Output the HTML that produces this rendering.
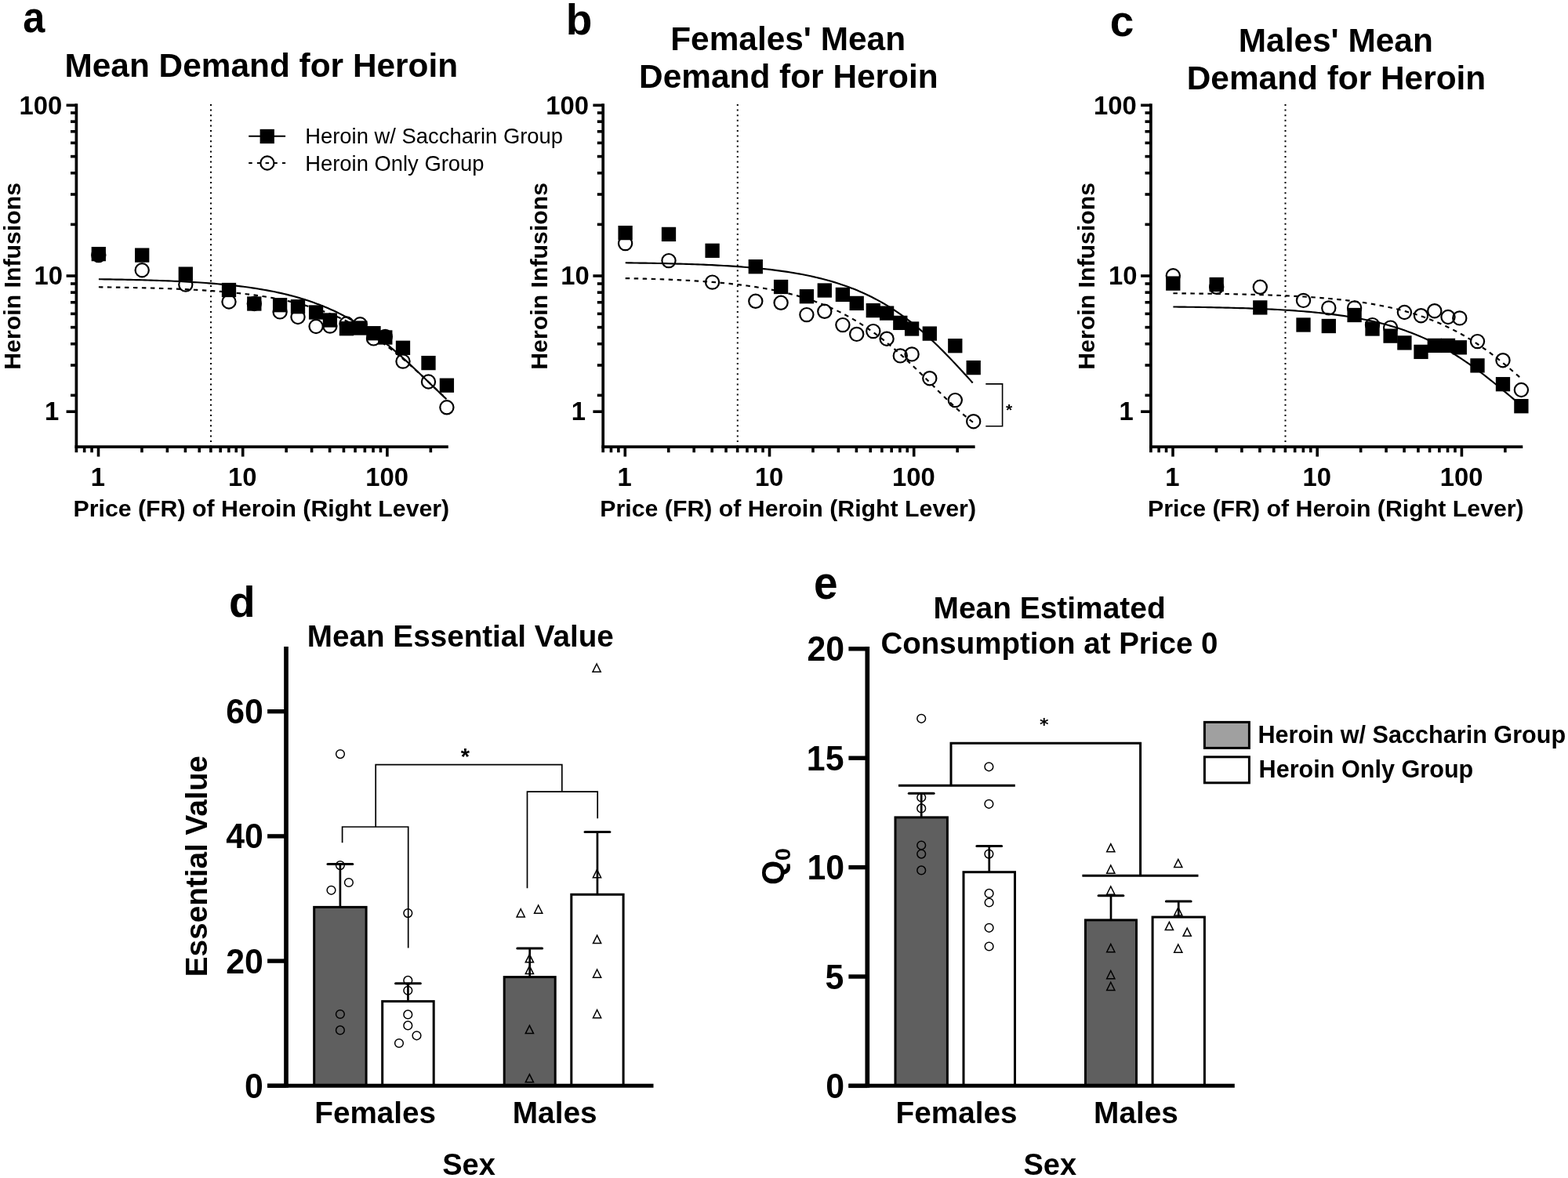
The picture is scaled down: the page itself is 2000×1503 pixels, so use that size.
<!DOCTYPE html>
<html><head><meta charset="utf-8"><title>Figure</title><style>html,body{margin:0;padding:0;background:#fff;}svg{display:block;}</style></head><body>
<svg width="2000" height="1503" viewBox="0 0 2000 1503">
<rect width="2000" height="1503" fill="#fff"/>
<line x1="269.00" y1="133" x2="269.00" y2="569" stroke="#000" stroke-width="2" stroke-dasharray="2 4.6"/>
<path d="M125.90,356.21 L129.60,356.26 L133.29,356.32 L136.99,356.37 L140.69,356.43 L144.38,356.49 L148.08,356.56 L151.78,356.62 L155.47,356.69 L159.17,356.77 L162.87,356.84 L166.56,356.92 L170.26,357.01 L173.96,357.10 L177.65,357.19 L181.35,357.29 L185.05,357.39 L188.74,357.50 L192.44,357.61 L196.14,357.72 L199.83,357.85 L203.53,357.97 L207.23,358.11 L210.92,358.25 L214.62,358.39 L218.32,358.55 L222.01,358.71 L225.71,358.87 L229.41,359.05 L233.10,359.23 L236.80,359.43 L240.50,359.63 L244.19,359.84 L247.89,360.06 L251.59,360.29 L255.28,360.53 L258.98,360.78 L262.68,361.04 L266.37,361.32 L270.07,361.61 L273.77,361.91 L277.46,362.23 L281.16,362.56 L284.86,362.90 L288.55,363.26 L292.25,363.64 L295.95,364.03 L299.64,364.44 L303.34,364.87 L307.04,365.32 L310.73,365.79 L314.43,366.28 L318.13,366.80 L321.82,367.33 L325.52,367.89 L329.22,368.47 L332.91,369.08 L336.61,369.72 L340.31,370.38 L344.00,371.08 L347.70,371.80 L351.40,372.56 L355.09,373.34 L358.79,374.17 L362.49,375.02 L366.18,375.91 L369.88,376.85 L373.58,377.82 L377.27,378.83 L380.97,379.88 L384.67,380.97 L388.36,382.11 L392.06,383.30 L395.76,384.53 L399.45,385.82 L403.15,387.15 L406.85,388.54 L410.54,389.98 L414.24,391.48 L417.94,393.03 L421.63,394.65 L425.33,396.32 L429.03,398.05 L432.72,399.85 L436.42,401.71 L440.12,403.64 L443.81,405.63 L447.51,407.70 L451.21,409.83 L454.90,412.03 L458.60,414.30 L462.30,416.64 L465.99,419.06 L469.69,421.54 L473.39,424.10 L477.08,426.73 L480.78,429.44 L484.48,432.21 L488.17,435.06 L491.87,437.97 L495.57,440.95 L499.26,444.00 L502.96,447.11 L506.66,450.29 L510.35,453.52 L514.05,456.81 L517.75,460.15 L521.44,463.54 L525.14,466.97 L528.84,470.44 L532.53,473.94 L536.23,477.47 L539.93,481.02 L543.62,484.59 L547.32,488.16 L551.02,491.73 L554.71,495.29 L558.41,498.84 L562.11,502.36 L565.80,505.85 L569.50,509.29" fill="none" stroke="#000" stroke-width="2.15"/>
<path d="M125.90,366.30 L129.60,366.35 L133.29,366.40 L136.99,366.44 L140.69,366.50 L144.38,366.55 L148.08,366.61 L151.78,366.67 L155.47,366.73 L159.17,366.79 L162.87,366.86 L166.56,366.93 L170.26,367.01 L173.96,367.09 L177.65,367.17 L181.35,367.26 L185.05,367.35 L188.74,367.44 L192.44,367.54 L196.14,367.64 L199.83,367.75 L203.53,367.86 L207.23,367.98 L210.92,368.10 L214.62,368.23 L218.32,368.37 L222.01,368.51 L225.71,368.66 L229.41,368.82 L233.10,368.98 L236.80,369.15 L240.50,369.33 L244.19,369.51 L247.89,369.71 L251.59,369.91 L255.28,370.13 L258.98,370.35 L262.68,370.58 L266.37,370.83 L270.07,371.08 L273.77,371.35 L277.46,371.63 L281.16,371.92 L284.86,372.23 L288.55,372.55 L292.25,372.88 L295.95,373.23 L299.64,373.60 L303.34,373.98 L307.04,374.38 L310.73,374.80 L314.43,375.23 L318.13,375.69 L321.82,376.16 L325.52,376.66 L329.22,377.18 L332.91,377.72 L336.61,378.29 L340.31,378.88 L344.00,379.50 L347.70,380.14 L351.40,380.82 L355.09,381.52 L358.79,382.25 L362.49,383.02 L366.18,383.81 L369.88,384.64 L373.58,385.51 L377.27,386.41 L380.97,387.36 L384.67,388.34 L388.36,389.36 L392.06,390.42 L395.76,391.53 L399.45,392.68 L403.15,393.88 L406.85,395.13 L410.54,396.43 L414.24,397.77 L417.94,399.17 L421.63,400.63 L425.33,402.14 L429.03,403.71 L432.72,405.33 L436.42,407.02 L440.12,408.77 L443.81,410.58 L447.51,412.45 L451.21,414.39 L454.90,416.40 L458.60,418.47 L462.30,420.62 L465.99,422.83 L469.69,425.11 L473.39,427.46 L477.08,429.88 L480.78,432.38 L484.48,434.94 L488.17,437.58 L491.87,440.29 L495.57,443.06 L499.26,445.91 L502.96,448.82 L506.66,451.79 L510.35,454.83 L514.05,457.94 L517.75,461.10 L521.44,464.31 L525.14,467.58 L528.84,470.90 L532.53,474.26 L536.23,477.66 L539.93,481.09 L543.62,484.55 L547.32,488.03 L551.02,491.53 L554.71,495.04 L558.41,498.55 L562.11,502.06 L565.80,505.55 L569.50,509.02" fill="none" stroke="#000" stroke-width="2.15" stroke-dasharray="5.5 5.5"/>
<circle cx="125.80" cy="325.60" r="8.6" fill="none" stroke="#000" stroke-width="2.2"/>
<circle cx="181.20" cy="344.75" r="8.6" fill="none" stroke="#000" stroke-width="2.2"/>
<circle cx="236.80" cy="363.10" r="8.6" fill="none" stroke="#000" stroke-width="2.2"/>
<circle cx="292.00" cy="385.00" r="8.6" fill="none" stroke="#000" stroke-width="2.2"/>
<circle cx="324.30" cy="387.50" r="8.6" fill="none" stroke="#000" stroke-width="2.2"/>
<circle cx="357.10" cy="397.90" r="8.6" fill="none" stroke="#000" stroke-width="2.2"/>
<circle cx="380.00" cy="404.50" r="8.6" fill="none" stroke="#000" stroke-width="2.2"/>
<circle cx="403.10" cy="416.50" r="8.6" fill="none" stroke="#000" stroke-width="2.2"/>
<circle cx="420.90" cy="416.10" r="8.6" fill="none" stroke="#000" stroke-width="2.2"/>
<circle cx="442.00" cy="413.00" r="8.6" fill="none" stroke="#000" stroke-width="2.2"/>
<circle cx="459.30" cy="413.80" r="8.6" fill="none" stroke="#000" stroke-width="2.2"/>
<circle cx="476.50" cy="431.90" r="8.6" fill="none" stroke="#000" stroke-width="2.2"/>
<circle cx="491.30" cy="429.50" r="8.6" fill="none" stroke="#000" stroke-width="2.2"/>
<circle cx="514.00" cy="461.10" r="8.6" fill="none" stroke="#000" stroke-width="2.2"/>
<circle cx="546.50" cy="487.00" r="8.6" fill="none" stroke="#000" stroke-width="2.2"/>
<circle cx="569.90" cy="519.80" r="8.6" fill="none" stroke="#000" stroke-width="2.2"/>
<rect x="116.65" y="314.95" width="18.3" height="18.3" fill="#000"/>
<rect x="172.05" y="316.45" width="18.3" height="18.3" fill="#000"/>
<rect x="227.65" y="340.45" width="18.3" height="18.3" fill="#000"/>
<rect x="282.85" y="360.85" width="18.3" height="18.3" fill="#000"/>
<rect x="315.15" y="378.35" width="18.3" height="18.3" fill="#000"/>
<rect x="347.95" y="380.05" width="18.3" height="18.3" fill="#000"/>
<rect x="370.85" y="382.05" width="18.3" height="18.3" fill="#000"/>
<rect x="393.95" y="389.35" width="18.3" height="18.3" fill="#000"/>
<rect x="411.75" y="399.35" width="18.3" height="18.3" fill="#000"/>
<rect x="432.85" y="410.05" width="18.3" height="18.3" fill="#000"/>
<rect x="450.15" y="409.35" width="18.3" height="18.3" fill="#000"/>
<rect x="467.35" y="416.05" width="18.3" height="18.3" fill="#000"/>
<rect x="482.15" y="421.35" width="18.3" height="18.3" fill="#000"/>
<rect x="504.85" y="434.65" width="18.3" height="18.3" fill="#000"/>
<rect x="537.35" y="453.95" width="18.3" height="18.3" fill="#000"/>
<rect x="560.75" y="482.55" width="18.3" height="18.3" fill="#000"/>
<line x1="97.40" y1="132.20" x2="97.40" y2="577.30" stroke="#000" stroke-width="3.7"/>
<line x1="95.55" y1="570.20" x2="571.80" y2="570.20" stroke="#000" stroke-width="3.8"/>
<line x1="84.60" y1="134.30" x2="97.40" y2="134.30" stroke="#000" stroke-width="3.6"/>
<line x1="84.60" y1="352.00" x2="97.40" y2="352.00" stroke="#000" stroke-width="3.6"/>
<line x1="84.60" y1="525.20" x2="97.40" y2="525.20" stroke="#000" stroke-width="3.6"/>
<line x1="90.00" y1="286.38" x2="97.40" y2="286.38" stroke="#000" stroke-width="3.6"/>
<line x1="90.00" y1="247.99" x2="97.40" y2="247.99" stroke="#000" stroke-width="3.6"/>
<line x1="90.00" y1="220.75" x2="97.40" y2="220.75" stroke="#000" stroke-width="3.6"/>
<line x1="90.00" y1="199.62" x2="97.40" y2="199.62" stroke="#000" stroke-width="3.6"/>
<line x1="90.00" y1="182.36" x2="97.40" y2="182.36" stroke="#000" stroke-width="3.6"/>
<line x1="90.00" y1="167.77" x2="97.40" y2="167.77" stroke="#000" stroke-width="3.6"/>
<line x1="90.00" y1="155.13" x2="97.40" y2="155.13" stroke="#000" stroke-width="3.6"/>
<line x1="90.00" y1="143.98" x2="97.40" y2="143.98" stroke="#000" stroke-width="3.6"/>
<line x1="90.00" y1="504.38" x2="97.40" y2="504.38" stroke="#000" stroke-width="3.6"/>
<line x1="90.00" y1="465.99" x2="97.40" y2="465.99" stroke="#000" stroke-width="3.6"/>
<line x1="90.00" y1="438.75" x2="97.40" y2="438.75" stroke="#000" stroke-width="3.6"/>
<line x1="90.00" y1="417.62" x2="97.40" y2="417.62" stroke="#000" stroke-width="3.6"/>
<line x1="90.00" y1="400.36" x2="97.40" y2="400.36" stroke="#000" stroke-width="3.6"/>
<line x1="90.00" y1="385.77" x2="97.40" y2="385.77" stroke="#000" stroke-width="3.6"/>
<line x1="90.00" y1="373.13" x2="97.40" y2="373.13" stroke="#000" stroke-width="3.6"/>
<line x1="90.00" y1="361.98" x2="97.40" y2="361.98" stroke="#000" stroke-width="3.6"/>
<line x1="107.65" y1="570.00" x2="107.65" y2="577.30" stroke="#000" stroke-width="3.6"/>
<line x1="117.07" y1="570.00" x2="117.07" y2="577.30" stroke="#000" stroke-width="3.6"/>
<line x1="180.95" y1="570.00" x2="180.95" y2="577.30" stroke="#000" stroke-width="3.6"/>
<line x1="213.39" y1="570.00" x2="213.39" y2="577.30" stroke="#000" stroke-width="3.6"/>
<line x1="236.40" y1="570.00" x2="236.40" y2="577.30" stroke="#000" stroke-width="3.6"/>
<line x1="254.25" y1="570.00" x2="254.25" y2="577.30" stroke="#000" stroke-width="3.6"/>
<line x1="268.84" y1="570.00" x2="268.84" y2="577.30" stroke="#000" stroke-width="3.6"/>
<line x1="281.17" y1="570.00" x2="281.17" y2="577.30" stroke="#000" stroke-width="3.6"/>
<line x1="291.85" y1="570.00" x2="291.85" y2="577.30" stroke="#000" stroke-width="3.6"/>
<line x1="301.27" y1="570.00" x2="301.27" y2="577.30" stroke="#000" stroke-width="3.6"/>
<line x1="365.15" y1="570.00" x2="365.15" y2="577.30" stroke="#000" stroke-width="3.6"/>
<line x1="397.59" y1="570.00" x2="397.59" y2="577.30" stroke="#000" stroke-width="3.6"/>
<line x1="420.60" y1="570.00" x2="420.60" y2="577.30" stroke="#000" stroke-width="3.6"/>
<line x1="438.45" y1="570.00" x2="438.45" y2="577.30" stroke="#000" stroke-width="3.6"/>
<line x1="453.04" y1="570.00" x2="453.04" y2="577.30" stroke="#000" stroke-width="3.6"/>
<line x1="465.37" y1="570.00" x2="465.37" y2="577.30" stroke="#000" stroke-width="3.6"/>
<line x1="476.05" y1="570.00" x2="476.05" y2="577.30" stroke="#000" stroke-width="3.6"/>
<line x1="485.47" y1="570.00" x2="485.47" y2="577.30" stroke="#000" stroke-width="3.6"/>
<line x1="549.35" y1="570.00" x2="549.35" y2="577.30" stroke="#000" stroke-width="3.6"/>
<line x1="125.50" y1="570.00" x2="125.50" y2="582.60" stroke="#000" stroke-width="3.6"/>
<line x1="309.70" y1="570.00" x2="309.70" y2="582.60" stroke="#000" stroke-width="3.6"/>
<line x1="493.90" y1="570.00" x2="493.90" y2="582.60" stroke="#000" stroke-width="3.6"/>
<text x="24.50" y="145.70" font-family="'Liberation Sans', Arial, Helvetica, sans-serif" font-size="32.80" font-weight="bold" fill="#000">100</text>
<text x="43.40" y="363.40" font-family="'Liberation Sans', Arial, Helvetica, sans-serif" font-size="32.80" font-weight="bold" fill="#000">10</text>
<text x="57.02" y="536.00" font-family="'Liberation Sans', Arial, Helvetica, sans-serif" font-size="32.80" font-weight="bold" fill="#000">1</text>
<text x="115.74" y="619.50" font-family="'Liberation Sans', Arial, Helvetica, sans-serif" font-size="32.80" font-weight="bold" fill="#000">1</text>
<text x="291.09" y="619.50" font-family="'Liberation Sans', Arial, Helvetica, sans-serif" font-size="32.80" font-weight="bold" fill="#000">10</text>
<text x="466.18" y="619.50" font-family="'Liberation Sans', Arial, Helvetica, sans-serif" font-size="32.80" font-weight="bold" fill="#000">100</text>
<text x="93.47" y="658.70" font-family="'Liberation Sans', Arial, Helvetica, sans-serif" font-size="30.30" font-weight="bold" fill="#000">Price (FR) of Heroin (Right Lever)</text>
<text transform="translate(25.90,351.90) rotate(-90)" x="-119.91" y="0" font-family="'Liberation Sans', Arial, Helvetica, sans-serif" font-size="30.30" font-weight="bold">Heroin Infusions</text>
<line x1="940.80" y1="133" x2="940.80" y2="569" stroke="#000" stroke-width="2" stroke-dasharray="2 4.6"/>
<path d="M797.70,335.30 L801.39,335.35 L805.08,335.40 L808.78,335.45 L812.47,335.50 L816.16,335.56 L819.85,335.61 L823.54,335.67 L827.23,335.74 L830.93,335.80 L834.62,335.87 L838.31,335.95 L842.00,336.02 L845.69,336.10 L849.38,336.18 L853.08,336.27 L856.77,336.36 L860.46,336.46 L864.15,336.56 L867.84,336.66 L871.53,336.77 L875.23,336.89 L878.92,337.01 L882.61,337.13 L886.30,337.26 L889.99,337.40 L893.68,337.54 L897.38,337.69 L901.07,337.85 L904.76,338.02 L908.45,338.19 L912.14,338.37 L915.83,338.56 L919.53,338.76 L923.22,338.96 L926.91,339.18 L930.60,339.41 L934.29,339.64 L937.98,339.89 L941.68,340.15 L945.37,340.42 L949.06,340.70 L952.75,341.00 L956.44,341.31 L960.13,341.64 L963.83,341.97 L967.52,342.33 L971.21,342.70 L974.90,343.09 L978.59,343.49 L982.28,343.92 L985.98,344.36 L989.67,344.82 L993.36,345.31 L997.05,345.81 L1000.74,346.34 L1004.43,346.89 L1008.12,347.47 L1011.82,348.07 L1015.51,348.70 L1019.20,349.36 L1022.89,350.04 L1026.58,350.76 L1030.28,351.51 L1033.97,352.29 L1037.66,353.10 L1041.35,353.95 L1045.04,354.83 L1048.73,355.76 L1052.42,356.72 L1056.12,357.72 L1059.81,358.77 L1063.50,359.86 L1067.19,361.00 L1070.88,362.18 L1074.58,363.41 L1078.27,364.69 L1081.96,366.03 L1085.65,367.42 L1089.34,368.86 L1093.03,370.36 L1096.72,371.92 L1100.42,373.54 L1104.11,375.23 L1107.80,376.98 L1111.49,378.79 L1115.18,380.67 L1118.88,382.62 L1122.57,384.65 L1126.26,386.74 L1129.95,388.91 L1133.64,391.15 L1137.33,393.47 L1141.03,395.87 L1144.72,398.35 L1148.41,400.91 L1152.10,403.55 L1155.79,406.27 L1159.48,409.07 L1163.18,411.95 L1166.87,414.92 L1170.56,417.97 L1174.25,421.10 L1177.94,424.30 L1181.63,427.59 L1185.33,430.96 L1189.02,434.40 L1192.71,437.91 L1196.40,441.50 L1200.09,445.15 L1203.78,448.87 L1207.47,452.65 L1211.17,456.48 L1214.86,460.37 L1218.55,464.30 L1222.24,468.26 L1225.93,472.27 L1229.62,476.29 L1233.32,480.34 L1237.01,484.40 L1240.70,488.45" fill="none" stroke="#000" stroke-width="2.15"/>
<path d="M797.70,355.07 L801.40,355.15 L805.09,355.23 L808.79,355.31 L812.49,355.40 L816.18,355.49 L819.88,355.59 L823.58,355.69 L827.27,355.80 L830.97,355.91 L834.67,356.02 L838.36,356.14 L842.06,356.27 L845.76,356.40 L849.45,356.54 L853.15,356.69 L856.85,356.84 L860.54,357.00 L864.24,357.17 L867.94,357.34 L871.63,357.53 L875.33,357.72 L879.03,357.92 L882.72,358.13 L886.42,358.35 L890.12,358.58 L893.81,358.82 L897.51,359.07 L901.21,359.33 L904.90,359.61 L908.60,359.89 L912.30,360.19 L915.99,360.51 L919.69,360.84 L923.39,361.18 L927.08,361.54 L930.78,361.92 L934.48,362.31 L938.17,362.72 L941.87,363.15 L945.57,363.60 L949.26,364.07 L952.96,364.55 L956.66,365.07 L960.35,365.60 L964.05,366.16 L967.75,366.74 L971.44,367.35 L975.14,367.99 L978.84,368.65 L982.53,369.34 L986.23,370.06 L989.93,370.82 L993.62,371.60 L997.32,372.43 L1001.02,373.28 L1004.71,374.17 L1008.41,375.10 L1012.11,376.07 L1015.80,377.08 L1019.50,378.13 L1023.20,379.23 L1026.89,380.37 L1030.59,381.56 L1034.29,382.80 L1037.98,384.08 L1041.68,385.42 L1045.38,386.81 L1049.07,388.25 L1052.77,389.75 L1056.47,391.31 L1060.16,392.93 L1063.86,394.61 L1067.56,396.35 L1071.25,398.15 L1074.95,400.02 L1078.65,401.96 L1082.34,403.96 L1086.04,406.04 L1089.74,408.18 L1093.43,410.40 L1097.13,412.68 L1100.83,415.05 L1104.52,417.48 L1108.22,419.99 L1111.92,422.57 L1115.61,425.23 L1119.31,427.96 L1123.01,430.77 L1126.70,433.65 L1130.40,436.60 L1134.10,439.63 L1137.79,442.72 L1141.49,445.88 L1145.19,449.11 L1148.88,452.40 L1152.58,455.75 L1156.28,459.16 L1159.97,462.62 L1163.67,466.13 L1167.37,469.68 L1171.06,473.27 L1174.76,476.89 L1178.46,480.54 L1182.15,484.21 L1185.85,487.89 L1189.55,491.58 L1193.24,495.26 L1196.94,498.94 L1200.64,502.59 L1204.33,506.22 L1208.03,509.81 L1211.73,513.36 L1215.42,516.85 L1219.12,520.28 L1222.82,523.64 L1226.51,526.91 L1230.21,530.09 L1233.91,533.18 L1237.60,536.15 L1241.30,539.01" fill="none" stroke="#000" stroke-width="2.15" stroke-dasharray="5.5 5.5"/>
<circle cx="797.60" cy="310.60" r="8.6" fill="none" stroke="#000" stroke-width="2.2"/>
<circle cx="853.00" cy="332.60" r="8.6" fill="none" stroke="#000" stroke-width="2.2"/>
<circle cx="908.60" cy="360.10" r="8.6" fill="none" stroke="#000" stroke-width="2.2"/>
<circle cx="963.80" cy="384.30" r="8.6" fill="none" stroke="#000" stroke-width="2.2"/>
<circle cx="996.10" cy="386.30" r="8.6" fill="none" stroke="#000" stroke-width="2.2"/>
<circle cx="1028.90" cy="401.60" r="8.6" fill="none" stroke="#000" stroke-width="2.2"/>
<circle cx="1051.80" cy="397.30" r="8.6" fill="none" stroke="#000" stroke-width="2.2"/>
<circle cx="1074.90" cy="414.60" r="8.6" fill="none" stroke="#000" stroke-width="2.2"/>
<circle cx="1092.70" cy="426.40" r="8.6" fill="none" stroke="#000" stroke-width="2.2"/>
<circle cx="1113.80" cy="422.60" r="8.6" fill="none" stroke="#000" stroke-width="2.2"/>
<circle cx="1131.10" cy="432.20" r="8.6" fill="none" stroke="#000" stroke-width="2.2"/>
<circle cx="1148.30" cy="453.90" r="8.6" fill="none" stroke="#000" stroke-width="2.2"/>
<circle cx="1163.10" cy="451.90" r="8.6" fill="none" stroke="#000" stroke-width="2.2"/>
<circle cx="1185.80" cy="482.70" r="8.6" fill="none" stroke="#000" stroke-width="2.2"/>
<circle cx="1218.30" cy="510.60" r="8.6" fill="none" stroke="#000" stroke-width="2.2"/>
<circle cx="1241.70" cy="537.70" r="8.6" fill="none" stroke="#000" stroke-width="2.2"/>
<rect x="788.45" y="287.95" width="18.3" height="18.3" fill="#000"/>
<rect x="843.85" y="289.75" width="18.3" height="18.3" fill="#000"/>
<rect x="899.45" y="310.65" width="18.3" height="18.3" fill="#000"/>
<rect x="954.65" y="331.05" width="18.3" height="18.3" fill="#000"/>
<rect x="986.95" y="356.85" width="18.3" height="18.3" fill="#000"/>
<rect x="1019.75" y="369.05" width="18.3" height="18.3" fill="#000"/>
<rect x="1042.65" y="361.35" width="18.3" height="18.3" fill="#000"/>
<rect x="1065.75" y="366.75" width="18.3" height="18.3" fill="#000"/>
<rect x="1083.55" y="377.75" width="18.3" height="18.3" fill="#000"/>
<rect x="1104.65" y="386.95" width="18.3" height="18.3" fill="#000"/>
<rect x="1121.95" y="390.45" width="18.3" height="18.3" fill="#000"/>
<rect x="1139.15" y="402.75" width="18.3" height="18.3" fill="#000"/>
<rect x="1153.95" y="410.35" width="18.3" height="18.3" fill="#000"/>
<rect x="1176.65" y="416.45" width="18.3" height="18.3" fill="#000"/>
<rect x="1209.15" y="432.05" width="18.3" height="18.3" fill="#000"/>
<rect x="1232.55" y="459.95" width="18.3" height="18.3" fill="#000"/>
<line x1="769.20" y1="132.20" x2="769.20" y2="577.30" stroke="#000" stroke-width="3.7"/>
<line x1="767.35" y1="570.20" x2="1243.60" y2="570.20" stroke="#000" stroke-width="3.8"/>
<line x1="756.40" y1="134.30" x2="769.20" y2="134.30" stroke="#000" stroke-width="3.6"/>
<line x1="756.40" y1="352.00" x2="769.20" y2="352.00" stroke="#000" stroke-width="3.6"/>
<line x1="756.40" y1="525.20" x2="769.20" y2="525.20" stroke="#000" stroke-width="3.6"/>
<line x1="761.80" y1="286.38" x2="769.20" y2="286.38" stroke="#000" stroke-width="3.6"/>
<line x1="761.80" y1="247.99" x2="769.20" y2="247.99" stroke="#000" stroke-width="3.6"/>
<line x1="761.80" y1="220.75" x2="769.20" y2="220.75" stroke="#000" stroke-width="3.6"/>
<line x1="761.80" y1="199.62" x2="769.20" y2="199.62" stroke="#000" stroke-width="3.6"/>
<line x1="761.80" y1="182.36" x2="769.20" y2="182.36" stroke="#000" stroke-width="3.6"/>
<line x1="761.80" y1="167.77" x2="769.20" y2="167.77" stroke="#000" stroke-width="3.6"/>
<line x1="761.80" y1="155.13" x2="769.20" y2="155.13" stroke="#000" stroke-width="3.6"/>
<line x1="761.80" y1="143.98" x2="769.20" y2="143.98" stroke="#000" stroke-width="3.6"/>
<line x1="761.80" y1="504.38" x2="769.20" y2="504.38" stroke="#000" stroke-width="3.6"/>
<line x1="761.80" y1="465.99" x2="769.20" y2="465.99" stroke="#000" stroke-width="3.6"/>
<line x1="761.80" y1="438.75" x2="769.20" y2="438.75" stroke="#000" stroke-width="3.6"/>
<line x1="761.80" y1="417.62" x2="769.20" y2="417.62" stroke="#000" stroke-width="3.6"/>
<line x1="761.80" y1="400.36" x2="769.20" y2="400.36" stroke="#000" stroke-width="3.6"/>
<line x1="761.80" y1="385.77" x2="769.20" y2="385.77" stroke="#000" stroke-width="3.6"/>
<line x1="761.80" y1="373.13" x2="769.20" y2="373.13" stroke="#000" stroke-width="3.6"/>
<line x1="761.80" y1="361.98" x2="769.20" y2="361.98" stroke="#000" stroke-width="3.6"/>
<line x1="779.45" y1="570.00" x2="779.45" y2="577.30" stroke="#000" stroke-width="3.6"/>
<line x1="788.87" y1="570.00" x2="788.87" y2="577.30" stroke="#000" stroke-width="3.6"/>
<line x1="852.75" y1="570.00" x2="852.75" y2="577.30" stroke="#000" stroke-width="3.6"/>
<line x1="885.19" y1="570.00" x2="885.19" y2="577.30" stroke="#000" stroke-width="3.6"/>
<line x1="908.20" y1="570.00" x2="908.20" y2="577.30" stroke="#000" stroke-width="3.6"/>
<line x1="926.05" y1="570.00" x2="926.05" y2="577.30" stroke="#000" stroke-width="3.6"/>
<line x1="940.64" y1="570.00" x2="940.64" y2="577.30" stroke="#000" stroke-width="3.6"/>
<line x1="952.97" y1="570.00" x2="952.97" y2="577.30" stroke="#000" stroke-width="3.6"/>
<line x1="963.65" y1="570.00" x2="963.65" y2="577.30" stroke="#000" stroke-width="3.6"/>
<line x1="973.07" y1="570.00" x2="973.07" y2="577.30" stroke="#000" stroke-width="3.6"/>
<line x1="1036.95" y1="570.00" x2="1036.95" y2="577.30" stroke="#000" stroke-width="3.6"/>
<line x1="1069.39" y1="570.00" x2="1069.39" y2="577.30" stroke="#000" stroke-width="3.6"/>
<line x1="1092.40" y1="570.00" x2="1092.40" y2="577.30" stroke="#000" stroke-width="3.6"/>
<line x1="1110.25" y1="570.00" x2="1110.25" y2="577.30" stroke="#000" stroke-width="3.6"/>
<line x1="1124.84" y1="570.00" x2="1124.84" y2="577.30" stroke="#000" stroke-width="3.6"/>
<line x1="1137.17" y1="570.00" x2="1137.17" y2="577.30" stroke="#000" stroke-width="3.6"/>
<line x1="1147.85" y1="570.00" x2="1147.85" y2="577.30" stroke="#000" stroke-width="3.6"/>
<line x1="1157.27" y1="570.00" x2="1157.27" y2="577.30" stroke="#000" stroke-width="3.6"/>
<line x1="1221.15" y1="570.00" x2="1221.15" y2="577.30" stroke="#000" stroke-width="3.6"/>
<line x1="797.30" y1="570.00" x2="797.30" y2="582.60" stroke="#000" stroke-width="3.6"/>
<line x1="981.50" y1="570.00" x2="981.50" y2="582.60" stroke="#000" stroke-width="3.6"/>
<line x1="1165.70" y1="570.00" x2="1165.70" y2="582.60" stroke="#000" stroke-width="3.6"/>
<text x="696.30" y="145.70" font-family="'Liberation Sans', Arial, Helvetica, sans-serif" font-size="32.80" font-weight="bold" fill="#000">100</text>
<text x="715.20" y="363.40" font-family="'Liberation Sans', Arial, Helvetica, sans-serif" font-size="32.80" font-weight="bold" fill="#000">10</text>
<text x="728.82" y="536.00" font-family="'Liberation Sans', Arial, Helvetica, sans-serif" font-size="32.80" font-weight="bold" fill="#000">1</text>
<text x="787.54" y="619.50" font-family="'Liberation Sans', Arial, Helvetica, sans-serif" font-size="32.80" font-weight="bold" fill="#000">1</text>
<text x="962.89" y="619.50" font-family="'Liberation Sans', Arial, Helvetica, sans-serif" font-size="32.80" font-weight="bold" fill="#000">10</text>
<text x="1137.98" y="619.50" font-family="'Liberation Sans', Arial, Helvetica, sans-serif" font-size="32.80" font-weight="bold" fill="#000">100</text>
<text x="765.27" y="658.70" font-family="'Liberation Sans', Arial, Helvetica, sans-serif" font-size="30.30" font-weight="bold" fill="#000">Price (FR) of Heroin (Right Lever)</text>
<text transform="translate(697.70,351.90) rotate(-90)" x="-119.91" y="0" font-family="'Liberation Sans', Arial, Helvetica, sans-serif" font-size="30.30" font-weight="bold">Heroin Infusions</text>
<line x1="1639.50" y1="133" x2="1639.50" y2="569" stroke="#000" stroke-width="2" stroke-dasharray="2 4.6"/>
<path d="M1496.40,391.48 L1500.10,391.52 L1503.80,391.56 L1507.50,391.61 L1511.20,391.65 L1514.90,391.70 L1518.61,391.75 L1522.31,391.80 L1526.01,391.86 L1529.71,391.91 L1533.41,391.97 L1537.11,392.04 L1540.81,392.10 L1544.51,392.17 L1548.21,392.25 L1551.91,392.32 L1555.61,392.40 L1559.31,392.48 L1563.02,392.57 L1566.72,392.66 L1570.42,392.76 L1574.12,392.86 L1577.82,392.96 L1581.52,393.07 L1585.22,393.19 L1588.92,393.30 L1592.62,393.43 L1596.32,393.56 L1600.02,393.70 L1603.72,393.84 L1607.42,393.99 L1611.13,394.15 L1614.83,394.32 L1618.53,394.49 L1622.23,394.67 L1625.93,394.86 L1629.63,395.05 L1633.33,395.26 L1637.03,395.48 L1640.73,395.70 L1644.43,395.94 L1648.13,396.19 L1651.84,396.44 L1655.54,396.71 L1659.24,397.00 L1662.94,397.29 L1666.64,397.60 L1670.34,397.92 L1674.04,398.26 L1677.74,398.62 L1681.44,398.98 L1685.14,399.37 L1688.84,399.77 L1692.54,400.19 L1696.25,400.63 L1699.95,401.09 L1703.65,401.57 L1707.35,402.07 L1711.05,402.60 L1714.75,403.14 L1718.45,403.71 L1722.15,404.31 L1725.85,404.93 L1729.55,405.58 L1733.25,406.25 L1736.95,406.96 L1740.65,407.69 L1744.36,408.46 L1748.06,409.26 L1751.76,410.09 L1755.46,410.96 L1759.16,411.86 L1762.86,412.80 L1766.56,413.78 L1770.26,414.80 L1773.96,415.86 L1777.66,416.97 L1781.36,418.11 L1785.07,419.31 L1788.77,420.54 L1792.47,421.83 L1796.17,423.17 L1799.87,424.55 L1803.57,425.99 L1807.27,427.48 L1810.97,429.02 L1814.67,430.62 L1818.37,432.28 L1822.07,434.00 L1825.77,435.77 L1829.47,437.60 L1833.18,439.49 L1836.88,441.45 L1840.58,443.46 L1844.28,445.54 L1847.98,447.68 L1851.68,449.88 L1855.38,452.14 L1859.08,454.47 L1862.78,456.85 L1866.48,459.30 L1870.18,461.81 L1873.88,464.37 L1877.59,467.00 L1881.29,469.67 L1884.99,472.40 L1888.69,475.19 L1892.39,478.02 L1896.09,480.89 L1899.79,483.81 L1903.49,486.76 L1907.19,489.75 L1910.89,492.76 L1914.59,495.80 L1918.30,498.85 L1922.00,501.92 L1925.70,505.00 L1929.40,508.07 L1933.10,511.14 L1936.80,514.19 L1940.50,517.22" fill="none" stroke="#000" stroke-width="2.15"/>
<path d="M1496.40,374.24 L1500.10,374.27 L1503.80,374.30 L1507.50,374.33 L1511.20,374.37 L1514.90,374.40 L1518.61,374.44 L1522.31,374.48 L1526.01,374.52 L1529.71,374.56 L1533.41,374.61 L1537.11,374.65 L1540.81,374.70 L1544.51,374.75 L1548.21,374.80 L1551.91,374.86 L1555.61,374.92 L1559.31,374.98 L1563.02,375.04 L1566.72,375.11 L1570.42,375.18 L1574.12,375.25 L1577.82,375.33 L1581.52,375.41 L1585.22,375.49 L1588.92,375.58 L1592.62,375.67 L1596.32,375.77 L1600.02,375.87 L1603.72,375.98 L1607.42,376.09 L1611.13,376.20 L1614.83,376.33 L1618.53,376.45 L1622.23,376.59 L1625.93,376.73 L1629.63,376.87 L1633.33,377.02 L1637.03,377.18 L1640.73,377.35 L1644.43,377.52 L1648.13,377.71 L1651.84,377.90 L1655.54,378.10 L1659.24,378.31 L1662.94,378.53 L1666.64,378.76 L1670.34,378.99 L1674.04,379.25 L1677.74,379.51 L1681.44,379.78 L1685.14,380.07 L1688.84,380.37 L1692.54,380.68 L1696.25,381.01 L1699.95,381.35 L1703.65,381.71 L1707.35,382.09 L1711.05,382.48 L1714.75,382.89 L1718.45,383.31 L1722.15,383.76 L1725.85,384.23 L1729.55,384.72 L1733.25,385.22 L1736.95,385.76 L1740.65,386.31 L1744.36,386.89 L1748.06,387.50 L1751.76,388.13 L1755.46,388.79 L1759.16,389.48 L1762.86,390.20 L1766.56,390.95 L1770.26,391.73 L1773.96,392.54 L1777.66,393.39 L1781.36,394.28 L1785.07,395.20 L1788.77,396.16 L1792.47,397.16 L1796.17,398.21 L1799.87,399.29 L1803.57,400.42 L1807.27,401.60 L1810.97,402.82 L1814.67,404.09 L1818.37,405.41 L1822.07,406.78 L1825.77,408.20 L1829.47,409.68 L1833.18,411.22 L1836.88,412.81 L1840.58,414.46 L1844.28,416.17 L1847.98,417.94 L1851.68,419.77 L1855.38,421.67 L1859.08,423.63 L1862.78,425.66 L1866.48,427.75 L1870.18,429.91 L1873.88,432.14 L1877.59,434.43 L1881.29,436.80 L1884.99,439.23 L1888.69,441.73 L1892.39,444.30 L1896.09,446.94 L1899.79,449.64 L1903.49,452.41 L1907.19,455.24 L1910.89,458.13 L1914.59,461.08 L1918.30,464.10 L1922.00,467.16 L1925.70,470.28 L1929.40,473.45 L1933.10,476.66 L1936.80,479.91 L1940.50,483.20" fill="none" stroke="#000" stroke-width="2.15" stroke-dasharray="5.5 5.5"/>
<circle cx="1496.30" cy="351.80" r="8.6" fill="none" stroke="#000" stroke-width="2.2"/>
<circle cx="1551.70" cy="366.30" r="8.6" fill="none" stroke="#000" stroke-width="2.2"/>
<circle cx="1607.30" cy="366.30" r="8.6" fill="none" stroke="#000" stroke-width="2.2"/>
<circle cx="1662.50" cy="383.40" r="8.6" fill="none" stroke="#000" stroke-width="2.2"/>
<circle cx="1694.80" cy="392.90" r="8.6" fill="none" stroke="#000" stroke-width="2.2"/>
<circle cx="1727.60" cy="392.90" r="8.6" fill="none" stroke="#000" stroke-width="2.2"/>
<circle cx="1750.50" cy="414.60" r="8.6" fill="none" stroke="#000" stroke-width="2.2"/>
<circle cx="1773.60" cy="418.10" r="8.6" fill="none" stroke="#000" stroke-width="2.2"/>
<circle cx="1791.40" cy="398.50" r="8.6" fill="none" stroke="#000" stroke-width="2.2"/>
<circle cx="1812.50" cy="402.70" r="8.6" fill="none" stroke="#000" stroke-width="2.2"/>
<circle cx="1829.80" cy="396.70" r="8.6" fill="none" stroke="#000" stroke-width="2.2"/>
<circle cx="1847.00" cy="404.50" r="8.6" fill="none" stroke="#000" stroke-width="2.2"/>
<circle cx="1861.80" cy="405.90" r="8.6" fill="none" stroke="#000" stroke-width="2.2"/>
<circle cx="1884.50" cy="435.60" r="8.6" fill="none" stroke="#000" stroke-width="2.2"/>
<circle cx="1917.00" cy="459.70" r="8.6" fill="none" stroke="#000" stroke-width="2.2"/>
<circle cx="1940.40" cy="497.50" r="8.6" fill="none" stroke="#000" stroke-width="2.2"/>
<rect x="1487.15" y="352.45" width="18.3" height="18.3" fill="#000"/>
<rect x="1542.55" y="353.85" width="18.3" height="18.3" fill="#000"/>
<rect x="1598.15" y="383.25" width="18.3" height="18.3" fill="#000"/>
<rect x="1653.35" y="405.35" width="18.3" height="18.3" fill="#000"/>
<rect x="1685.65" y="406.85" width="18.3" height="18.3" fill="#000"/>
<rect x="1718.45" y="392.85" width="18.3" height="18.3" fill="#000"/>
<rect x="1741.35" y="410.35" width="18.3" height="18.3" fill="#000"/>
<rect x="1764.45" y="419.45" width="18.3" height="18.3" fill="#000"/>
<rect x="1782.25" y="428.25" width="18.3" height="18.3" fill="#000"/>
<rect x="1803.35" y="439.75" width="18.3" height="18.3" fill="#000"/>
<rect x="1820.65" y="431.75" width="18.3" height="18.3" fill="#000"/>
<rect x="1837.85" y="431.75" width="18.3" height="18.3" fill="#000"/>
<rect x="1852.65" y="434.15" width="18.3" height="18.3" fill="#000"/>
<rect x="1875.35" y="457.25" width="18.3" height="18.3" fill="#000"/>
<rect x="1907.85" y="481.05" width="18.3" height="18.3" fill="#000"/>
<rect x="1931.25" y="509.05" width="18.3" height="18.3" fill="#000"/>
<line x1="1467.90" y1="132.20" x2="1467.90" y2="577.30" stroke="#000" stroke-width="3.7"/>
<line x1="1466.05" y1="570.20" x2="1942.30" y2="570.20" stroke="#000" stroke-width="3.8"/>
<line x1="1455.10" y1="134.30" x2="1467.90" y2="134.30" stroke="#000" stroke-width="3.6"/>
<line x1="1455.10" y1="352.00" x2="1467.90" y2="352.00" stroke="#000" stroke-width="3.6"/>
<line x1="1455.10" y1="525.20" x2="1467.90" y2="525.20" stroke="#000" stroke-width="3.6"/>
<line x1="1460.50" y1="286.38" x2="1467.90" y2="286.38" stroke="#000" stroke-width="3.6"/>
<line x1="1460.50" y1="247.99" x2="1467.90" y2="247.99" stroke="#000" stroke-width="3.6"/>
<line x1="1460.50" y1="220.75" x2="1467.90" y2="220.75" stroke="#000" stroke-width="3.6"/>
<line x1="1460.50" y1="199.62" x2="1467.90" y2="199.62" stroke="#000" stroke-width="3.6"/>
<line x1="1460.50" y1="182.36" x2="1467.90" y2="182.36" stroke="#000" stroke-width="3.6"/>
<line x1="1460.50" y1="167.77" x2="1467.90" y2="167.77" stroke="#000" stroke-width="3.6"/>
<line x1="1460.50" y1="155.13" x2="1467.90" y2="155.13" stroke="#000" stroke-width="3.6"/>
<line x1="1460.50" y1="143.98" x2="1467.90" y2="143.98" stroke="#000" stroke-width="3.6"/>
<line x1="1460.50" y1="504.38" x2="1467.90" y2="504.38" stroke="#000" stroke-width="3.6"/>
<line x1="1460.50" y1="465.99" x2="1467.90" y2="465.99" stroke="#000" stroke-width="3.6"/>
<line x1="1460.50" y1="438.75" x2="1467.90" y2="438.75" stroke="#000" stroke-width="3.6"/>
<line x1="1460.50" y1="417.62" x2="1467.90" y2="417.62" stroke="#000" stroke-width="3.6"/>
<line x1="1460.50" y1="400.36" x2="1467.90" y2="400.36" stroke="#000" stroke-width="3.6"/>
<line x1="1460.50" y1="385.77" x2="1467.90" y2="385.77" stroke="#000" stroke-width="3.6"/>
<line x1="1460.50" y1="373.13" x2="1467.90" y2="373.13" stroke="#000" stroke-width="3.6"/>
<line x1="1460.50" y1="361.98" x2="1467.90" y2="361.98" stroke="#000" stroke-width="3.6"/>
<line x1="1478.15" y1="570.00" x2="1478.15" y2="577.30" stroke="#000" stroke-width="3.6"/>
<line x1="1487.57" y1="570.00" x2="1487.57" y2="577.30" stroke="#000" stroke-width="3.6"/>
<line x1="1551.45" y1="570.00" x2="1551.45" y2="577.30" stroke="#000" stroke-width="3.6"/>
<line x1="1583.89" y1="570.00" x2="1583.89" y2="577.30" stroke="#000" stroke-width="3.6"/>
<line x1="1606.90" y1="570.00" x2="1606.90" y2="577.30" stroke="#000" stroke-width="3.6"/>
<line x1="1624.75" y1="570.00" x2="1624.75" y2="577.30" stroke="#000" stroke-width="3.6"/>
<line x1="1639.34" y1="570.00" x2="1639.34" y2="577.30" stroke="#000" stroke-width="3.6"/>
<line x1="1651.67" y1="570.00" x2="1651.67" y2="577.30" stroke="#000" stroke-width="3.6"/>
<line x1="1662.35" y1="570.00" x2="1662.35" y2="577.30" stroke="#000" stroke-width="3.6"/>
<line x1="1671.77" y1="570.00" x2="1671.77" y2="577.30" stroke="#000" stroke-width="3.6"/>
<line x1="1735.65" y1="570.00" x2="1735.65" y2="577.30" stroke="#000" stroke-width="3.6"/>
<line x1="1768.09" y1="570.00" x2="1768.09" y2="577.30" stroke="#000" stroke-width="3.6"/>
<line x1="1791.10" y1="570.00" x2="1791.10" y2="577.30" stroke="#000" stroke-width="3.6"/>
<line x1="1808.95" y1="570.00" x2="1808.95" y2="577.30" stroke="#000" stroke-width="3.6"/>
<line x1="1823.54" y1="570.00" x2="1823.54" y2="577.30" stroke="#000" stroke-width="3.6"/>
<line x1="1835.87" y1="570.00" x2="1835.87" y2="577.30" stroke="#000" stroke-width="3.6"/>
<line x1="1846.55" y1="570.00" x2="1846.55" y2="577.30" stroke="#000" stroke-width="3.6"/>
<line x1="1855.97" y1="570.00" x2="1855.97" y2="577.30" stroke="#000" stroke-width="3.6"/>
<line x1="1919.85" y1="570.00" x2="1919.85" y2="577.30" stroke="#000" stroke-width="3.6"/>
<line x1="1496.00" y1="570.00" x2="1496.00" y2="582.60" stroke="#000" stroke-width="3.6"/>
<line x1="1680.20" y1="570.00" x2="1680.20" y2="582.60" stroke="#000" stroke-width="3.6"/>
<line x1="1864.40" y1="570.00" x2="1864.40" y2="582.60" stroke="#000" stroke-width="3.6"/>
<text x="1395.00" y="145.70" font-family="'Liberation Sans', Arial, Helvetica, sans-serif" font-size="32.80" font-weight="bold" fill="#000">100</text>
<text x="1413.90" y="363.40" font-family="'Liberation Sans', Arial, Helvetica, sans-serif" font-size="32.80" font-weight="bold" fill="#000">10</text>
<text x="1427.52" y="536.00" font-family="'Liberation Sans', Arial, Helvetica, sans-serif" font-size="32.80" font-weight="bold" fill="#000">1</text>
<text x="1486.24" y="619.50" font-family="'Liberation Sans', Arial, Helvetica, sans-serif" font-size="32.80" font-weight="bold" fill="#000">1</text>
<text x="1661.59" y="619.50" font-family="'Liberation Sans', Arial, Helvetica, sans-serif" font-size="32.80" font-weight="bold" fill="#000">10</text>
<text x="1836.68" y="619.50" font-family="'Liberation Sans', Arial, Helvetica, sans-serif" font-size="32.80" font-weight="bold" fill="#000">100</text>
<text x="1463.97" y="658.70" font-family="'Liberation Sans', Arial, Helvetica, sans-serif" font-size="30.30" font-weight="bold" fill="#000">Price (FR) of Heroin (Right Lever)</text>
<text transform="translate(1396.40,351.90) rotate(-90)" x="-119.91" y="0" font-family="'Liberation Sans', Arial, Helvetica, sans-serif" font-size="30.30" font-weight="bold">Heroin Infusions</text>
<text x="82.44" y="98.40" font-family="'Liberation Sans', Arial, Helvetica, sans-serif" font-size="42.40" font-weight="bold" fill="#000">Mean Demand for Heroin</text>
<text x="855.20" y="63.80" font-family="'Liberation Sans', Arial, Helvetica, sans-serif" font-size="42.40" font-weight="bold" fill="#000">Females&#39; Mean</text>
<text x="815.09" y="112.20" font-family="'Liberation Sans', Arial, Helvetica, sans-serif" font-size="42.40" font-weight="bold" fill="#000">Demand for Heroin</text>
<text x="1579.77" y="66.00" font-family="'Liberation Sans', Arial, Helvetica, sans-serif" font-size="42.40" font-weight="bold" fill="#000">Males&#39; Mean</text>
<text x="1513.69" y="114.10" font-family="'Liberation Sans', Arial, Helvetica, sans-serif" font-size="42.40" font-weight="bold" fill="#000">Demand for Heroin</text>
<line x1="317.20" y1="173.70" x2="364.10" y2="173.70" stroke="#000" stroke-width="2.15"/>
<rect x="331.60" y="164.85" width="18.3" height="18.3" fill="#000"/>
<line x1="317.2" y1="208" x2="364.1" y2="208" stroke="#000" stroke-width="2.15" stroke-dasharray="4.5 6.2"/>
<circle cx="340.9" cy="208" r="8.6" fill="none" stroke="#000" stroke-width="2.2"/>
<text x="389.21" y="183.30" font-family="'Liberation Sans', Arial, Helvetica, sans-serif" font-size="27.40" font-weight="normal" fill="#000">Heroin w/ Saccharin Group</text>
<text x="389.21" y="217.70" font-family="'Liberation Sans', Arial, Helvetica, sans-serif" font-size="27.40" font-weight="normal" fill="#000">Heroin Only Group</text>
<path d="M1257.3,489.9 H1278.6 V543.8 H1257.3" fill="none" stroke="#000" stroke-width="1.6"/>
<text x="1282.9" y="530.4" font-family="'Liberation Sans', Arial, Helvetica, sans-serif" font-size="21" font-weight="bold">*</text>
<text x="29.25" y="40.60" font-family="'Liberation Sans', Arial, Helvetica, sans-serif" font-size="55.00" font-weight="bold" fill="#000" transform="translate(30.9,0) scale(0.918,1) translate(-30.9,0)">a</text>
<text x="721.72" y="43.60" font-family="'Liberation Sans', Arial, Helvetica, sans-serif" font-size="55.00" font-weight="bold" fill="#000">b</text>
<text x="1415.70" y="45.80" font-family="'Liberation Sans', Arial, Helvetica, sans-serif" font-size="55.00" font-weight="bold" fill="#000">c</text>
<text x="291.90" y="786.60" font-family="'Liberation Sans', Arial, Helvetica, sans-serif" font-size="55.00" font-weight="bold" fill="#000">d</text>
<text x="1038.00" y="763.80" font-family="'Liberation Sans', Arial, Helvetica, sans-serif" font-size="55.00" font-weight="bold" fill="#000" transform="translate(0,763.8) scale(1,1.085) translate(0,-763.8)">e</text>
<rect x="400.70" y="1157.40" width="66.40" height="227.90" fill="#5f5f5f" stroke="#000" stroke-width="3.0"/>
<rect x="487.70" y="1277.60" width="65.50" height="107.70" fill="#fff" stroke="#000" stroke-width="3.0"/>
<rect x="643.20" y="1246.60" width="65.00" height="138.70" fill="#5f5f5f" stroke="#000" stroke-width="3.0"/>
<rect x="728.80" y="1141.30" width="66.30" height="244.00" fill="#fff" stroke="#000" stroke-width="3.0"/>
<line x1="433.90" y1="1156.90" x2="433.90" y2="1102.50" stroke="#000" stroke-width="2.7"/>
<line x1="418.00" y1="1102.50" x2="449.80" y2="1102.50" stroke="#000" stroke-width="3.0" stroke-linecap="round"/>
<line x1="520.45" y1="1277.10" x2="520.45" y2="1254.80" stroke="#000" stroke-width="2.7"/>
<line x1="504.55" y1="1254.80" x2="536.35" y2="1254.80" stroke="#000" stroke-width="3.0" stroke-linecap="round"/>
<line x1="675.70" y1="1246.10" x2="675.70" y2="1210.00" stroke="#000" stroke-width="2.7"/>
<line x1="659.80" y1="1210.00" x2="691.60" y2="1210.00" stroke="#000" stroke-width="3.0" stroke-linecap="round"/>
<line x1="761.95" y1="1140.80" x2="761.95" y2="1061.50" stroke="#000" stroke-width="2.7"/>
<line x1="746.05" y1="1061.50" x2="777.85" y2="1061.50" stroke="#000" stroke-width="3.0" stroke-linecap="round"/>
<circle cx="433.90" cy="1104.10" r="5.35" fill="none" stroke="#000" stroke-width="1.5"/>
<circle cx="422.50" cy="1135.80" r="5.35" fill="none" stroke="#000" stroke-width="1.5"/>
<circle cx="444.90" cy="1126.00" r="5.35" fill="none" stroke="#000" stroke-width="1.5"/>
<circle cx="434.00" cy="962.10" r="5.35" fill="none" stroke="#000" stroke-width="1.5"/>
<circle cx="433.90" cy="1294.00" r="5.35" fill="none" stroke="#000" stroke-width="1.5"/>
<circle cx="433.90" cy="1314.40" r="5.35" fill="none" stroke="#000" stroke-width="1.5"/>
<circle cx="520.30" cy="1165.10" r="5.35" fill="none" stroke="#000" stroke-width="1.5"/>
<circle cx="520.30" cy="1250.90" r="5.35" fill="none" stroke="#000" stroke-width="1.5"/>
<circle cx="520.30" cy="1263.80" r="5.35" fill="none" stroke="#000" stroke-width="1.5"/>
<circle cx="520.30" cy="1294.40" r="5.35" fill="none" stroke="#000" stroke-width="1.5"/>
<circle cx="520.30" cy="1308.40" r="5.35" fill="none" stroke="#000" stroke-width="1.5"/>
<circle cx="531.50" cy="1321.30" r="5.35" fill="none" stroke="#000" stroke-width="1.5"/>
<circle cx="509.00" cy="1331.00" r="5.35" fill="none" stroke="#000" stroke-width="1.5"/>
<path d="M664.20,1159.73 L669.30,1169.90 L659.10,1169.90 Z" fill="none" stroke="#000" stroke-width="1.5" stroke-linejoin="miter" stroke-miterlimit="10"/>
<path d="M686.70,1155.03 L691.80,1165.20 L681.60,1165.20 Z" fill="none" stroke="#000" stroke-width="1.5" stroke-linejoin="miter" stroke-miterlimit="10"/>
<path d="M675.40,1217.63 L680.50,1227.80 L670.30,1227.80 Z" fill="none" stroke="#000" stroke-width="1.5" stroke-linejoin="miter" stroke-miterlimit="10"/>
<path d="M675.40,1232.33 L680.50,1242.50 L670.30,1242.50 Z" fill="none" stroke="#000" stroke-width="1.5" stroke-linejoin="miter" stroke-miterlimit="10"/>
<path d="M675.40,1308.43 L680.50,1318.60 L670.30,1318.60 Z" fill="none" stroke="#000" stroke-width="1.5" stroke-linejoin="miter" stroke-miterlimit="10"/>
<path d="M675.40,1370.63 L680.50,1380.80 L670.30,1380.80 Z" fill="none" stroke="#000" stroke-width="1.5" stroke-linejoin="miter" stroke-miterlimit="10"/>
<path d="M761.10,847.03 L766.20,857.20 L756.00,857.20 Z" fill="none" stroke="#000" stroke-width="1.5" stroke-linejoin="miter" stroke-miterlimit="10"/>
<path d="M761.50,1109.53 L766.60,1119.70 L756.40,1119.70 Z" fill="none" stroke="#000" stroke-width="1.5" stroke-linejoin="miter" stroke-miterlimit="10"/>
<path d="M761.60,1193.43 L766.70,1203.60 L756.50,1203.60 Z" fill="none" stroke="#000" stroke-width="1.5" stroke-linejoin="miter" stroke-miterlimit="10"/>
<path d="M761.60,1237.03 L766.70,1247.20 L756.50,1247.20 Z" fill="none" stroke="#000" stroke-width="1.5" stroke-linejoin="miter" stroke-miterlimit="10"/>
<path d="M761.60,1288.53 L766.70,1298.70 L756.50,1298.70 Z" fill="none" stroke="#000" stroke-width="1.5" stroke-linejoin="miter" stroke-miterlimit="10"/>
<path d="M436.6,1075.3 V1055 H520.7 V1209.5 M479.2,1055 V975.6 H716.8 V1010.2 M672.5,1133.2 V1010.2 H762.2 V1044.2" fill="none" stroke="#000" stroke-width="1.7"/>
<text x="587.84" y="974.8" font-family="'Liberation Sans', Arial, Helvetica, sans-serif" font-size="29" font-weight="bold">*</text>
<line x1="365.00" y1="825.00" x2="365.00" y2="1387.80" stroke="#000" stroke-width="5.7"/>
<line x1="341.10" y1="1385.30" x2="833.50" y2="1385.30" stroke="#000" stroke-width="5.0"/>
<line x1="341.10" y1="1385.30" x2="365.00" y2="1385.30" stroke="#000" stroke-width="5.4"/>
<text x="311.96" y="1400.90" font-family="'Liberation Sans', Arial, Helvetica, sans-serif" font-size="42.80" font-weight="bold" fill="#000" transform="translate(0,1400.90) scale(1,1.05) translate(0,-1400.90)">0</text>
<line x1="341.10" y1="1226.10" x2="365.00" y2="1226.10" stroke="#000" stroke-width="5.4"/>
<text x="288.20" y="1241.70" font-family="'Liberation Sans', Arial, Helvetica, sans-serif" font-size="42.80" font-weight="bold" fill="#000" transform="translate(0,1241.70) scale(1,1.05) translate(0,-1241.70)">20</text>
<line x1="341.10" y1="1066.90" x2="365.00" y2="1066.90" stroke="#000" stroke-width="5.4"/>
<text x="288.20" y="1082.50" font-family="'Liberation Sans', Arial, Helvetica, sans-serif" font-size="42.80" font-weight="bold" fill="#000" transform="translate(0,1082.50) scale(1,1.05) translate(0,-1082.50)">40</text>
<line x1="341.10" y1="907.70" x2="365.00" y2="907.70" stroke="#000" stroke-width="5.4"/>
<text x="288.20" y="923.30" font-family="'Liberation Sans', Arial, Helvetica, sans-serif" font-size="42.80" font-weight="bold" fill="#000" transform="translate(0,923.30) scale(1,1.05) translate(0,-923.30)">60</text>
<text x="401.28" y="1432.50" font-family="'Liberation Sans', Arial, Helvetica, sans-serif" font-size="38.70" font-weight="bold" fill="#000">Females</text>
<text x="653.78" y="1432.50" font-family="'Liberation Sans', Arial, Helvetica, sans-serif" font-size="38.80" font-weight="bold" fill="#000">Males</text>
<text x="564.16" y="1498.60" font-family="'Liberation Sans', Arial, Helvetica, sans-serif" font-size="38.00" font-weight="bold" fill="#000">Sex</text>
<text x="391.80" y="824.50" font-family="'Liberation Sans', Arial, Helvetica, sans-serif" font-size="38.66" font-weight="bold" fill="#000">Mean Essential Value</text>
<text transform="translate(264.30,1104.65) rotate(-90)" x="-141.67" y="0" font-family="'Liberation Sans', Arial, Helvetica, sans-serif" font-size="38.76" font-weight="bold">Essential Value</text>
<rect x="1142.00" y="1042.90" width="66.40" height="342.40" fill="#5f5f5f" stroke="#000" stroke-width="3.0"/>
<rect x="1229.00" y="1112.70" width="65.50" height="272.60" fill="#fff" stroke="#000" stroke-width="3.0"/>
<rect x="1384.50" y="1173.90" width="65.00" height="211.40" fill="#5f5f5f" stroke="#000" stroke-width="3.0"/>
<rect x="1470.10" y="1170.10" width="66.30" height="215.20" fill="#fff" stroke="#000" stroke-width="3.0"/>
<line x1="1175.20" y1="1042.40" x2="1175.20" y2="1012.20" stroke="#000" stroke-width="2.7"/>
<line x1="1159.30" y1="1012.20" x2="1191.10" y2="1012.20" stroke="#000" stroke-width="3.0" stroke-linecap="round"/>
<line x1="1261.75" y1="1112.20" x2="1261.75" y2="1079.60" stroke="#000" stroke-width="2.7"/>
<line x1="1245.85" y1="1079.60" x2="1277.65" y2="1079.60" stroke="#000" stroke-width="3.0" stroke-linecap="round"/>
<line x1="1417.00" y1="1173.40" x2="1417.00" y2="1142.70" stroke="#000" stroke-width="2.7"/>
<line x1="1401.10" y1="1142.70" x2="1432.90" y2="1142.70" stroke="#000" stroke-width="3.0" stroke-linecap="round"/>
<line x1="1503.25" y1="1169.60" x2="1503.25" y2="1150.00" stroke="#000" stroke-width="2.7"/>
<line x1="1487.35" y1="1150.00" x2="1519.15" y2="1150.00" stroke="#000" stroke-width="3.0" stroke-linecap="round"/>
<circle cx="1175.20" cy="916.80" r="5.35" fill="none" stroke="#000" stroke-width="1.5"/>
<circle cx="1175.20" cy="1017.50" r="5.35" fill="none" stroke="#000" stroke-width="1.5"/>
<circle cx="1175.20" cy="1031.40" r="5.35" fill="none" stroke="#000" stroke-width="1.5"/>
<circle cx="1175.20" cy="1078.50" r="5.35" fill="none" stroke="#000" stroke-width="1.5"/>
<circle cx="1175.20" cy="1089.60" r="5.35" fill="none" stroke="#000" stroke-width="1.5"/>
<circle cx="1175.20" cy="1110.40" r="5.35" fill="none" stroke="#000" stroke-width="1.5"/>
<circle cx="1261.40" cy="978.30" r="5.35" fill="none" stroke="#000" stroke-width="1.5"/>
<circle cx="1261.40" cy="1025.80" r="5.35" fill="none" stroke="#000" stroke-width="1.5"/>
<circle cx="1261.40" cy="1089.60" r="5.35" fill="none" stroke="#000" stroke-width="1.5"/>
<circle cx="1261.60" cy="1139.90" r="5.35" fill="none" stroke="#000" stroke-width="1.5"/>
<circle cx="1261.60" cy="1151.50" r="5.35" fill="none" stroke="#000" stroke-width="1.5"/>
<circle cx="1261.60" cy="1183.80" r="5.35" fill="none" stroke="#000" stroke-width="1.5"/>
<circle cx="1261.60" cy="1207.50" r="5.35" fill="none" stroke="#000" stroke-width="1.5"/>
<path d="M1416.80,1076.63 L1421.90,1086.80 L1411.70,1086.80 Z" fill="none" stroke="#000" stroke-width="1.5" stroke-linejoin="miter" stroke-miterlimit="10"/>
<path d="M1416.80,1104.03 L1421.90,1114.20 L1411.70,1114.20 Z" fill="none" stroke="#000" stroke-width="1.5" stroke-linejoin="miter" stroke-miterlimit="10"/>
<path d="M1416.80,1131.03 L1421.90,1141.20 L1411.70,1141.20 Z" fill="none" stroke="#000" stroke-width="1.5" stroke-linejoin="miter" stroke-miterlimit="10"/>
<path d="M1416.80,1204.53 L1421.90,1214.70 L1411.70,1214.70 Z" fill="none" stroke="#000" stroke-width="1.5" stroke-linejoin="miter" stroke-miterlimit="10"/>
<path d="M1416.80,1238.53 L1421.90,1248.70 L1411.70,1248.70 Z" fill="none" stroke="#000" stroke-width="1.5" stroke-linejoin="miter" stroke-miterlimit="10"/>
<path d="M1416.80,1253.23 L1421.90,1263.40 L1411.70,1263.40 Z" fill="none" stroke="#000" stroke-width="1.5" stroke-linejoin="miter" stroke-miterlimit="10"/>
<path d="M1502.80,1096.33 L1507.90,1106.50 L1497.70,1106.50 Z" fill="none" stroke="#000" stroke-width="1.5" stroke-linejoin="miter" stroke-miterlimit="10"/>
<path d="M1502.80,1157.83 L1507.90,1168.00 L1497.70,1168.00 Z" fill="none" stroke="#000" stroke-width="1.5" stroke-linejoin="miter" stroke-miterlimit="10"/>
<path d="M1491.40,1176.43 L1496.50,1186.60 L1486.30,1186.60 Z" fill="none" stroke="#000" stroke-width="1.5" stroke-linejoin="miter" stroke-miterlimit="10"/>
<path d="M1514.20,1184.13 L1519.30,1194.30 L1509.10,1194.30 Z" fill="none" stroke="#000" stroke-width="1.5" stroke-linejoin="miter" stroke-miterlimit="10"/>
<path d="M1502.80,1205.03 L1507.90,1215.20 L1497.70,1215.20 Z" fill="none" stroke="#000" stroke-width="1.5" stroke-linejoin="miter" stroke-miterlimit="10"/>
<path d="M1146,1002.3 H1294.8 M1213,1002.3 V948.3 H1454.6 V1117.3 M1380.4,1117.3 H1528.5" fill="none" stroke="#000" stroke-width="3"/>
<text x="1326.1" y="932.2" font-family="'DejaVu Sans', sans-serif" font-size="22" font-weight="bold">*</text>
<line x1="1106.30" y1="825.00" x2="1106.30" y2="1387.80" stroke="#000" stroke-width="5.7"/>
<line x1="1082.40" y1="1385.30" x2="1574.80" y2="1385.30" stroke="#000" stroke-width="5.0"/>
<line x1="1082.40" y1="1385.40" x2="1106.30" y2="1385.40" stroke="#000" stroke-width="5.4"/>
<text x="1053.26" y="1401.00" font-family="'Liberation Sans', Arial, Helvetica, sans-serif" font-size="42.80" font-weight="bold" fill="#000" transform="translate(0,1401.00) scale(1,1.05) translate(0,-1401.00)">0</text>
<line x1="1082.40" y1="1246.00" x2="1106.30" y2="1246.00" stroke="#000" stroke-width="5.4"/>
<text x="1052.62" y="1261.60" font-family="'Liberation Sans', Arial, Helvetica, sans-serif" font-size="42.80" font-weight="bold" fill="#000" transform="translate(0,1261.60) scale(1,1.05) translate(0,-1261.60)">5</text>
<line x1="1082.40" y1="1106.60" x2="1106.30" y2="1106.60" stroke="#000" stroke-width="5.4"/>
<text x="1029.50" y="1122.20" font-family="'Liberation Sans', Arial, Helvetica, sans-serif" font-size="42.80" font-weight="bold" fill="#000" transform="translate(0,1122.20) scale(1,1.05) translate(0,-1122.20)">10</text>
<line x1="1082.40" y1="967.20" x2="1106.30" y2="967.20" stroke="#000" stroke-width="5.4"/>
<text x="1028.86" y="982.80" font-family="'Liberation Sans', Arial, Helvetica, sans-serif" font-size="42.80" font-weight="bold" fill="#000" transform="translate(0,982.80) scale(1,1.05) translate(0,-982.80)">15</text>
<line x1="1082.40" y1="827.80" x2="1106.30" y2="827.80" stroke="#000" stroke-width="5.4"/>
<text x="1029.50" y="843.40" font-family="'Liberation Sans', Arial, Helvetica, sans-serif" font-size="42.80" font-weight="bold" fill="#000" transform="translate(0,843.40) scale(1,1.05) translate(0,-843.40)">20</text>
<text x="1142.58" y="1432.50" font-family="'Liberation Sans', Arial, Helvetica, sans-serif" font-size="38.70" font-weight="bold" fill="#000">Females</text>
<text x="1395.08" y="1432.50" font-family="'Liberation Sans', Arial, Helvetica, sans-serif" font-size="38.80" font-weight="bold" fill="#000">Males</text>
<text x="1305.46" y="1498.60" font-family="'Liberation Sans', Arial, Helvetica, sans-serif" font-size="38.00" font-weight="bold" fill="#000">Sex</text>
<text x="1190.59" y="789.40" font-family="'Liberation Sans', Arial, Helvetica, sans-serif" font-size="38.90" font-weight="bold" fill="#000">Mean Estimated</text>
<text x="1123.48" y="834.30" font-family="'Liberation Sans', Arial, Helvetica, sans-serif" font-size="38.50" font-weight="bold" fill="#000">Consumption at Price 0</text>
<text transform="translate(1000.3,1113.5) rotate(-90)" x="0" y="0" font-family="'Liberation Sans', Arial, Helvetica, sans-serif" font-size="40" font-weight="bold" text-anchor="middle">Q</text>
<text transform="translate(1007.6,1090) rotate(-90)" x="0" y="0" font-family="'Liberation Sans', Arial, Helvetica, sans-serif" font-size="28.5" font-weight="bold" text-anchor="middle">0</text>
<rect x="1536.4" y="921.4" width="57" height="33" fill="#a0a0a0" stroke="#000" stroke-width="3"/>
<rect x="1536.4" y="965.8" width="57" height="33" fill="#fff" stroke="#000" stroke-width="3"/>
<text x="1604.41" y="948.00" font-family="'Liberation Sans', Arial, Helvetica, sans-serif" font-size="30.60" font-weight="bold" fill="#000">Heroin w/ Saccharin Group</text>
<text x="1605.61" y="991.90" font-family="'Liberation Sans', Arial, Helvetica, sans-serif" font-size="30.60" font-weight="bold" fill="#000">Heroin Only Group</text>
</svg>
</body></html>
